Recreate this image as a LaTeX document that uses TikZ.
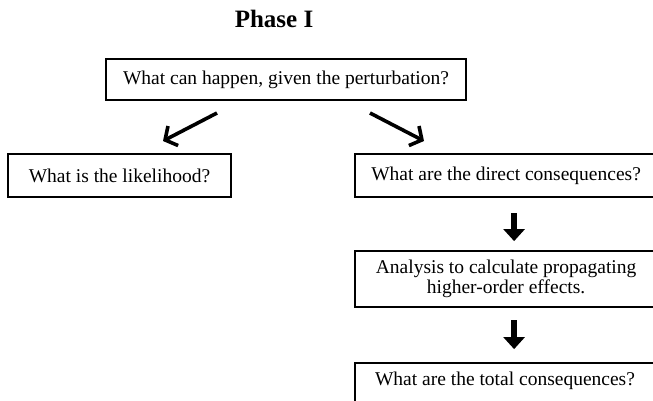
\documentclass[tikz,border=0pt]{standalone}
\usepackage{fontspec}
\setmainfont{Liberation Serif}
\usetikzlibrary{arrows.meta}
\begin{document}
\begin{tikzpicture}[x=1pt,y=-1pt,
  qbox/.style={draw=black, line width=2.2pt, fill=white, inner sep=0pt, align=center,
    font=\fontsize{19.5}{20.5}\selectfont},
  diag/.style={line width=3.6pt, -{Straight Barb[length=9pt,width=22pt,line width=3.6pt]}},
  downarr/.style={line width=6.5pt, -{Triangle[length=12pt,width=21pt]}}]
\useasboundingbox (0,0) rectangle (653,400);
\clip (0,0) rectangle (653,400);
\node[font=\fontsize{25}{28}\selectfont\bfseries] (title) at (274,19) {Phase I};
\node[qbox, minimum width=360pt, minimum height=41pt] (top) at (286,79.5) {What can happen, given the perturbation?};
\node[qbox, minimum width=223pt, minimum height=43pt] (left) at (119.5,175.5) {What is the likelihood?};
\node[qbox, minimum width=302pt, minimum height=43pt, anchor=west] (direct) at (354,175.5) {What are the direct consequences?};
\node[qbox, minimum width=302pt, minimum height=56pt, anchor=west] (analysis) at (354,279) {Analysis to calculate propagating\\higher-order effects.};
\node[qbox, minimum width=302pt, minimum height=50pt, anchor=north west] (total) at (354,362) {};
\node[font=\fontsize{19.5}{20.5}\selectfont] (totaltext) at (505,381) {What are the total consequences?};
\coordinate (l1) at (217,113);
\coordinate (l2) at (163,141);
\coordinate (r1) at (370,113);
\coordinate (r2) at (424,141);
\draw[diag] (l1) -- (l2);
\draw[diag] (r1) -- (r2);
\draw[downarr] ([xshift=8pt]direct.south) ++(0,15) coordinate (d1s) -- ++(0,28) coordinate (d1e);
\draw[downarr] ([xshift=8pt]analysis.south) ++(0,12) coordinate (d2s) -- ++(0,29) coordinate (d2e);
\end{tikzpicture}
\end{document}
